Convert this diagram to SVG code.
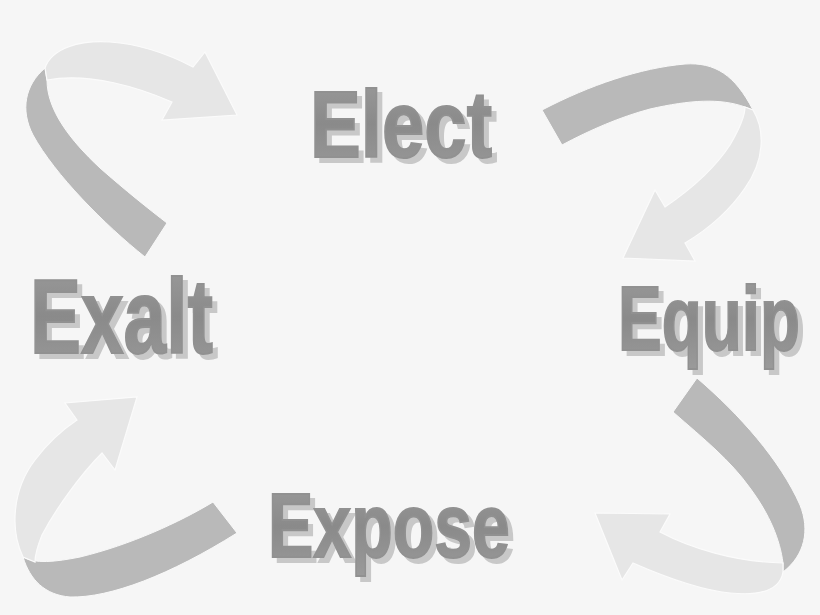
<svg xmlns="http://www.w3.org/2000/svg" width="820" height="615" viewBox="0 0 820 615">
<defs>
<linearGradient id="tg" x1="0" y1="0" x2="0" y2="1">
<stop offset="0" stop-color="#9c9c9c"/>
<stop offset="0.5" stop-color="#8a8a8a"/>
<stop offset="1" stop-color="#9a9a9a"/>
</linearGradient>
<filter id="ds" x="-10%" y="-20%" width="130%" height="150%">
<feOffset in="SourceAlpha" dx="5" dy="5" result="o"/>
<feFlood flood-color="#c8c8c8"/>
<feComposite in2="o" operator="in" result="s"/>
<feMerge><feMergeNode in="s"/><feMergeNode in="SourceGraphic"/></feMerge>
</filter>
<style>
.lbl{font-family:"Liberation Sans","Arial",sans-serif;font-weight:bold;fill:url(#tg);stroke:#919191;stroke-width:2;}
.node{filter:url(#ds);}
.dk{fill:#b9b9b9;stroke:#f9f9f9;stroke-width:1;}
.lt{fill:#e6e6e6;stroke:#fbfbfb;stroke-width:1.2;}
</style>
</defs>
<rect width="820" height="615" fill="#f6f6f6"/>
<g id="connectors">
<g id="arrow-exalt-elect">
<path class="dk" d="M145,257 C105,225 55,175 33,135 C20,110 25,85 45,68 L47,80 C47,110 70,140 100,168 C125,190 150,210 167,223 Z"/>
<path class="lt" d="M45,68 C52,48 80,40 110,42 C140,44 170,55 193,67 L205,52 L237,115 L162,120 L172,102 C140,88 90,72 47,80 Z"/>
</g>
<g id="arrow-elect-equip">
<path class="dk" d="M542,110 C590,85 640,68 685,64 C715,62 735,75 753,110 L745,107 C720,98 690,100 650,109 C620,117 590,130 562,145 Z"/>
<path class="lt" d="M753,110 C765,130 765,160 745,188 C730,210 710,228 685,243 L695,261 L623,258 L655,190 L665,207 C690,190 715,168 730,145 C740,128 745,115 745,107 Z"/>
</g>
<g id="arrow-equip-expose">
<path class="dk" d="M697,378 C740,415 780,460 800,505 C810,530 805,555 783,572 L783,563 C780,540 770,515 750,488 C730,460 705,440 673,412 Z"/>
<path class="lt" d="M783,572 C780,590 760,596 730,593 C700,590 665,577 633,563 L622,580 L595,513 L670,514 L660,532 C690,548 735,562 783,563 Z"/>
</g>
<g id="arrow-expose-exalt">
<path class="dk" d="M213,502 C180,522 130,545 80,557 C55,562 35,564 23,557 C30,580 45,595 70,597 C110,598 170,575 237,533 Z"/>
<path class="lt" d="M23,557 C10,530 12,490 35,460 C50,440 65,428 77,420 L65,403 L137,397 L115,470 L102,453 C80,475 55,510 42,535 C38,545 35,555 35,562 Z"/>
</g>
</g>
<g id="elect" class="node">
<text class="lbl" transform="translate(310,157) scale(0.8,1)" font-size="95" textLength="227.5" lengthAdjust="spacingAndGlyphs">Elect</text>
</g>
<g id="exalt" class="node">
<text class="lbl" transform="translate(30,353) scale(0.72,1)" font-size="106" textLength="254" lengthAdjust="spacingAndGlyphs">Exalt</text>
</g>
<g id="equip" class="node">
<text class="lbl" transform="translate(618,350) scale(0.72,1)" font-size="91" textLength="252.8" lengthAdjust="spacingAndGlyphs">Equip</text>
</g>
<g id="expose" class="node">
<text class="lbl" transform="translate(268,557) scale(0.756,1)" font-size="90" textLength="320" lengthAdjust="spacingAndGlyphs">Expose</text>
</g>
</svg>
